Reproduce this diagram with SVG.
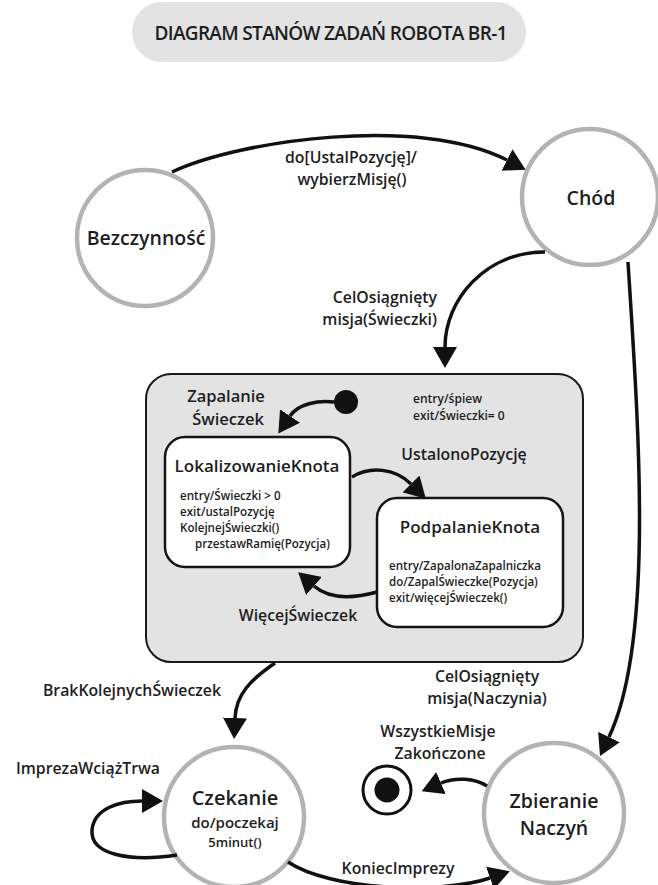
<svg xmlns="http://www.w3.org/2000/svg" width="658" height="885" viewBox="0 0 658 885">
  <style>
    text { font-family: "Open Sans", "Noto Sans", "DejaVu Sans", sans-serif; font-weight: 600; fill: #1e1e1e; }
    .title { font-size: 19px; text-anchor: middle; }
    .state { fill: #ffffff; stroke: #b3b3b3; stroke-width: 4.5; }
    .sname { font-size: 19.5px; text-anchor: middle; }
    .bname { font-size: 17px; text-anchor: middle; }
    .lbl { font-size: 15.8px; text-anchor: middle; }
    .sub { font-size: 11.6px; }
    .box { fill: #ffffff; stroke: #151515; stroke-width: 2.5; }
    .edge { fill: none; stroke: #111111; stroke-width: 3.5; marker-end: url(#head); }
  </style>
  <defs>
    <marker id="head" markerUnits="userSpaceOnUse" markerWidth="22" markerHeight="24" refX="0" refY="12" orient="auto">
      <path d="M0,0 L21,12 L0,24 z" fill="#111111"/>
    </marker>
  </defs>

  <rect x="0" y="0" width="658" height="885" fill="#ffffff"/>

  <!-- title banner -->
  <g id="title">
    <rect x="132" y="2" width="394" height="60" rx="30" fill="#e3e3e3"/>
    <text class="title" x="331" y="40" textLength="353">DIAGRAM STANÓW ZADAŃ ROBOTA BR-1</text>
  </g>

  <!-- composite state -->
  <g id="zapalanie-swieczek">
    <rect x="146" y="374" width="437" height="288" rx="25" fill="#e3e3e3" stroke="#1a1a1a" stroke-width="2"/>
    <text class="lbl" x="226" y="402" style="font-size:16.5px">Zapalanie</text>
    <text class="lbl" x="228" y="425" style="font-size:16.5px">Świeczek</text>
    <text class="sub" x="413" y="403" style="font-size:12px">entry/śpiew</text>
    <text class="sub" x="413" y="420" style="font-size:12px">exit/Świeczki= 0</text>
  </g>

  <g id="initial">
    <circle cx="346" cy="402" r="12" fill="#111111"/>
  </g>

  <g id="lokalizowanie-knota">
    <rect class="box" x="165" y="437" width="185" height="130" rx="20"/>
    <text class="bname" x="257" y="472">LokalizowanieKnota</text>
    <text class="sub" x="180" y="500">entry/Świeczki &gt; 0</text>
    <text class="sub" x="180" y="516">exit/ustalPozycję</text>
    <text class="sub" x="180" y="532">KolejnejŚwieczki()</text>
    <text class="sub" x="195" y="548">przestawRamię(Pozycja)</text>
  </g>

  <g id="podpalanie-knota">
    <rect class="box" x="377" y="498" width="186" height="129" rx="20"/>
    <text class="bname" x="470" y="533">PodpalanieKnota</text>
    <text class="sub" x="389" y="570">entry/ZapalonaZapalniczka</text>
    <text class="sub" x="389" y="586">do/ZapalŚwieczke(Pozycja)</text>
    <text class="sub" x="389" y="602">exit/więcejŚwieczek()</text>
  </g>

  <!-- simple states -->
  <g id="bezczynnosc">
    <circle class="state" cx="145" cy="238" r="68"/>
    <text class="sname" x="146" y="245">Bezczynność</text>
  </g>

  <g id="chod">
    <circle class="state" cx="590" cy="197" r="68"/>
    <text class="sname" x="591" y="205">Chód</text>
  </g>

  <g id="czekanie">
    <circle class="state" cx="234" cy="817" r="70"/>
    <text class="sname" x="235" y="805" style="font-size:20px">Czekanie</text>
    <text class="lbl" x="235" y="828" style="font-size:15px">do/poczekaj</text>
    <text class="lbl" x="235" y="847" style="font-size:13px">5minut()</text>
  </g>

  <g id="zbieranie-naczyn">
    <circle class="state" cx="554" cy="813" r="70"/>
    <text class="sname" x="554" y="808">Zbieranie</text>
    <text class="sname" x="554" y="835">Naczyń</text>
  </g>

  <g id="final">
    <circle cx="387" cy="790" r="24" fill="#ffffff" stroke="#111111" stroke-width="3"/>
    <circle cx="387" cy="790" r="12.5" fill="#111111"/>
  </g>

  <!-- transitions -->
  <g id="connectors">
    <path class="edge" d="M172,172 C240,140 420,115 507,160"/>
    <path class="edge" d="M545,252 C485,252 445,300 445,347"/>
    <path class="edge" d="M628,262 C638,420 655,640 609,737"/>
    <path class="edge" d="M334,402 C318,400 298,404 290,416"/>
    <path class="edge" d="M352,477 C370,466 395,468 411,484"/>
    <path class="edge" d="M377,592 C355,598 330,600 314,586"/>
    <path class="edge" d="M275,663 C250,680 236,695 235,718"/>
    <path class="edge" d="M177,855 C130,862 90,855 92,830 C94,808 120,801 142,801"/>
    <path class="edge" d="M288,862 C330,890 440,895 490,878"/>
    <path class="edge" d="M487,786 C475,778 455,777 441,783"/>
  </g>

  <!-- transition labels -->
  <g id="labels">
    <text class="lbl" x="351" y="163">do[UstalPozycję]/</text>
    <text class="lbl" x="352" y="185">wybierzMisję()</text>
    <text class="lbl" x="437" y="303" style="text-anchor:end">CelOsiągnięty</text>
    <text class="lbl" x="437" y="325" style="text-anchor:end">misja(Świeczki)</text>
    <text class="lbl" x="464" y="460">UstalonoPozycję</text>
    <text class="lbl" x="298" y="621">WięcejŚwieczek</text>
    <text class="lbl" x="132" y="696">BrakKolejnychŚwieczek</text>
    <text class="lbl" x="487" y="682">CelOsiągnięty</text>
    <text class="lbl" x="487" y="704">misja(Naczynia)</text>
    <text class="lbl" x="438" y="737">WszystkieMisje</text>
    <text class="lbl" x="440" y="759">Zakończone</text>
    <text class="lbl" x="88" y="774">ImprezaWciążTrwa</text>
    <text class="lbl" x="398" y="874">KoniecImprezy</text>
  </g>
</svg>
